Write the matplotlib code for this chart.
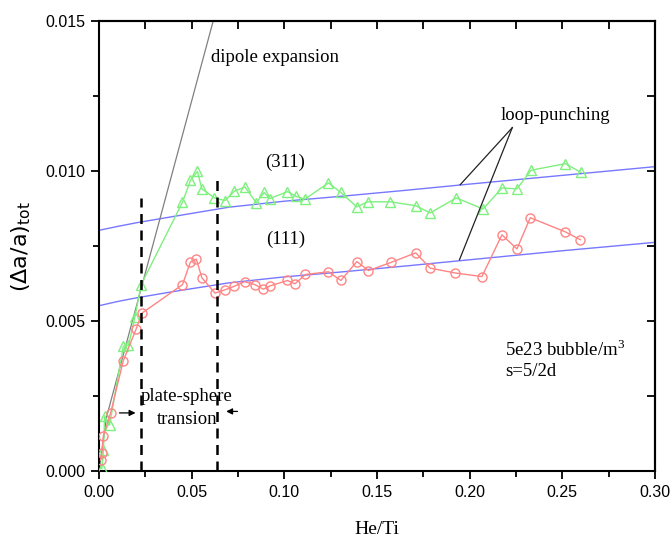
import matplotlib
matplotlib.use('Agg')
import matplotlib.pyplot as plt
from matplotlib.ticker import MultipleLocator, FormatStrFormatter

plt.rcParams['mathtext.fontset'] = 'custom'
plt.rcParams['mathtext.rm'] = 'Liberation Sans'
plt.rcParams['mathtext.it'] = 'Liberation Sans'

# (311) series
he_ti_311 = [0.0015, 0.0024, 0.0030, 0.0057, 0.0131, 0.0159, 0.0194, 0.0227, 0.0450, 0.0493,
             0.0531, 0.0555, 0.0623, 0.0680, 0.0731, 0.0788, 0.0848, 0.0891, 0.0923, 0.1017,
             0.1064, 0.1111, 0.1238, 0.1305, 0.1391, 0.1449, 0.1571, 0.1709, 0.1787, 0.1928,
             0.2072, 0.2174, 0.2255, 0.2331, 0.2516, 0.2601]
da_311 = [0.00010, 0.00072, 0.00185, 0.00155, 0.00417, 0.00420, 0.00515, 0.00622, 0.00896, 0.00969,
          0.00999, 0.00941, 0.00911, 0.00902, 0.00934, 0.00947, 0.00895, 0.00929, 0.00909, 0.00932,
          0.00916, 0.00907, 0.00961, 0.00929, 0.00881, 0.00898, 0.00898, 0.00885, 0.00861, 0.00911,
          0.00874, 0.00944, 0.00941, 0.01003, 0.01025, 0.00996]

# (111) series
he_ti_111 = [0.0008, 0.0015, 0.0023, 0.0063, 0.0131, 0.0200, 0.0231, 0.0450, 0.0493, 0.0525,
             0.0555, 0.0626, 0.0680, 0.0727, 0.0786, 0.0842, 0.0887, 0.0923, 0.1017, 0.1057,
             0.1114, 0.1238, 0.1305, 0.1391, 0.1454, 0.1575, 0.1709, 0.1787, 0.1922, 0.2066,
             0.2174, 0.2255, 0.2327, 0.2516, 0.2597]
da_111 = [0.00038, 0.00060, 0.00118, 0.00196, 0.00369, 0.00474, 0.00527, 0.00622, 0.00697, 0.00707,
          0.00645, 0.00594, 0.00605, 0.00616, 0.00632, 0.00622, 0.00607, 0.00618, 0.00636, 0.00625,
          0.00656, 0.00665, 0.00636, 0.00699, 0.00669, 0.00696, 0.00728, 0.00677, 0.00661, 0.00649,
          0.00788, 0.00741, 0.00845, 0.00798, 0.00772]

# loop-punching model curves
loop_x = [0.0, 0.01, 0.02, 0.04, 0.07, 0.10, 0.13, 0.165, 0.20, 0.25, 0.30]
loop_311 = [0.00803, 0.00816, 0.00828, 0.00849, 0.00880, 0.00900, 0.00916, 0.00936, 0.00957, 0.00986, 0.01015]
loop_111 = [0.00552, 0.00566, 0.00578, 0.00599, 0.00628, 0.00648, 0.00664, 0.00684, 0.00705, 0.00735, 0.00763]

# dipole expansion line
dipole_x = [0.0, 0.004, 0.0616]
dipole_y = [0.0, 0.0018, 0.015]

# plate-sphere transition boundaries
trans_x = [0.0225, 0.0639]
trans_top = [0.0091, 0.0097]

fig = plt.figure(figsize=(6.70, 5.43), dpi=100)
ax = fig.add_axes([0.1478, 0.1317, 0.8298, 0.8296])

green = '#7ef07e'
red = '#ff8585'
blue = '#7777ff'

ax.plot(loop_x, loop_311, color=blue, lw=1.0, zorder=2)
ax.plot(loop_x, loop_111, color=blue, lw=1.0, zorder=2)
ax.plot(dipole_x, dipole_y, color='#808080', lw=0.9, zorder=2)

ax.plot(he_ti_311, da_311, color=green, lw=1.0, marker='^', ms=7, mfc='none',
        mec=green, mew=1.0, zorder=3)
ax.plot(he_ti_111, da_111, color=red, lw=1.0, marker='o', ms=6.5, mfc='none',
        mec=red, mew=1.0, zorder=3)

for xv, top in zip(trans_x, trans_top):
    ax.plot([xv, xv], [0, top], color='black', lw=1.8, ls=(0, (4, 2.6)), zorder=4)

# loop-punching pointer lines
ax.plot([0.223, 0.1949], [0.01145, 0.00955], color='#222222', lw=0.9, zorder=4)
ax.plot([0.223, 0.1945], [0.01145, 0.00705], color='#222222', lw=0.9, zorder=4)

serif = ['Liberation Serif', 'DejaVu Serif']
fs = 13.5
ax.text(0.0605, 0.01378, 'dipole expansion', family=serif, fontsize=fs, va='center', ha='left')
ax.text(0.1005, 0.01028, '(311)', family=serif, fontsize=fs, va='center', ha='center')
ax.text(0.1005, 0.00772, '(111)', family=serif, fontsize=fs, va='center', ha='center')
ax.text(0.2462, 0.01185, 'loop-punching', family=serif, fontsize=fs, va='center', ha='center')
ax.text(0.2192, 0.00405, '5e23 bubble/m$^{\\mathregular{3}}$', family=serif, fontsize=fs,
        va='center', ha='left')
ax.text(0.2192, 0.00332, 's=5/2d', family=serif, fontsize=fs, va='center', ha='left')
ax.text(0.0475, 0.00249, 'plate-sphere', family=serif, fontsize=fs, va='center', ha='center')
ax.text(0.0475, 0.00172, 'transion', family=serif, fontsize=fs, va='center', ha='center')

ax.annotate('', xy=(0.0212, 0.00195), xytext=(0.0095, 0.00195),
            arrowprops=dict(arrowstyle='-|>', color='black', lw=0.9, mutation_scale=9))
ax.annotate('', xy=(0.0671, 0.00200), xytext=(0.0762, 0.00200),
            arrowprops=dict(arrowstyle='-|>', color='black', lw=0.9, mutation_scale=9))

ax.set_xlim(0, 0.30)
ax.set_ylim(0, 0.015)
ax.xaxis.set_major_locator(MultipleLocator(0.05))
ax.xaxis.set_minor_locator(MultipleLocator(0.025))
ax.yaxis.set_major_locator(MultipleLocator(0.005))
ax.yaxis.set_minor_locator(MultipleLocator(0.0025))
ax.xaxis.set_major_formatter(FormatStrFormatter('%.2f'))
ax.yaxis.set_major_formatter(FormatStrFormatter('%.3f'))

for s in ax.spines.values():
    s.set_linewidth(1.5)

ax.tick_params(which='both', direction='out', width=1.3, labelsize=11.5)
ax.tick_params(which='major', length=6)
ax.tick_params(which='minor', length=4)
for lab in ax.get_xticklabels() + ax.get_yticklabels():
    lab.set_family(['Liberation Sans', 'DejaVu Sans'])

# mirrored ticks on top and right (inward)
axt = ax.secondary_xaxis('top')
axt.xaxis.set_major_locator(MultipleLocator(0.05))
axt.xaxis.set_minor_locator(MultipleLocator(0.025))
axt.tick_params(which='both', direction='in', width=1.3, labeltop=False)
axt.tick_params(which='major', length=6)
axt.tick_params(which='minor', length=6)
axt.spines['top'].set_linewidth(1.5)
axr = ax.secondary_yaxis('right')
axr.yaxis.set_major_locator(MultipleLocator(0.005))
axr.yaxis.set_minor_locator(MultipleLocator(0.0025))
axr.tick_params(which='both', direction='in', width=1.3, labelright=False)
axr.tick_params(which='major', length=6)
axr.tick_params(which='minor', length=6)
axr.spines['right'].set_linewidth(1.5)

ax.set_xlabel('He/Ti', family=serif, fontsize=14, labelpad=15)
ax.set_ylabel('$\\mathregular{(\\Delta a/a)_{tot}}$', fontsize=16, labelpad=9)

fig.savefig('out.png', dpi=100)
